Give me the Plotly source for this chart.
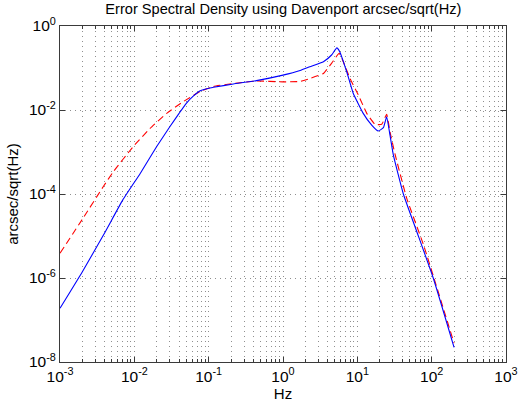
import plotly.graph_objects as go

# ---- data (Hz, arcsec/sqrt(Hz)) ----
blue_freq = [0.001, 0.002, 0.004, 0.007, 0.012, 0.02, 0.03, 0.04, 0.05, 0.062,
             0.077, 0.1, 0.116, 0.215, 0.44, 1.0, 1.7, 2.3, 3.5, 4.5,
             5.3, 5.8, 7.2, 8.8, 12.0, 15.6, 19.1, 22.4, 24.8, 27.5,
             30.5, 41.6, 62.8, 105.0, 200.0]
blue_esd = [1.9e-7, 1.41e-6, 1.2e-5, 7.24e-5, 3.09e-4, 1.35e-3, 3.98e-3, 8.32e-3, 1.445e-2, 2.14e-2,
            2.88e-2, 3.31e-2, 3.47e-2, 4.17e-2, 5.01e-2, 6.76e-2, 8.71e-2, 0.107, 0.141, 0.204,
            0.302, 0.245, 0.0813, 0.0251, 8.32e-3, 4.37e-3, 3.16e-3, 3.8e-3, 6.92e-3, 2.51e-3,
            8.51e-4, 1.0e-4, 1.3e-5, 1.0e-6, 2.24e-8]

red_freq = [0.001, 0.002, 0.00383, 0.00521, 0.00968, 0.01626, 0.02723, 0.0456, 0.0766, 0.1156,
            0.215, 0.443, 1.0, 1.7, 2.3, 3.5, 4.5, 5.71, 6.47, 7.98,
            10.3, 13.4, 17.3, 21.3, 24.8, 27.5, 32.1, 46.1, 77.3, 200.0]
red_esd = [3.89e-6, 2.51e-5, 1.51e-4, 3.39e-4, 1.35e-3, 3.63e-3, 8.32e-3, 1.585e-2, 2.75e-2, 3.63e-2,
           4.27e-2, 4.9e-2, 4.68e-2, 4.79e-2, 5.62e-2, 7.41e-2, 0.129, 0.224, 0.141, 0.0562,
           0.0229, 8.32e-3, 4.57e-3, 4.57e-3, 7.94e-3, 3.02e-3, 9.0e-4, 8.0e-5, 6.3e-6, 2.82e-8]

x_tick_vals = [1e-3, 1e-2, 1e-1, 1e0, 1e1, 1e2, 1e3]
x_tick_text = ["10<sup>-3</sup>", "10<sup>-2</sup>", "10<sup>-1</sup>", "10<sup>0</sup>",
               "10<sup>1</sup>", "10<sup>2</sup>", "10<sup>3</sup>"]
y_tick_vals = [1e-8, 1e-6, 1e-4, 1e-2, 1e0]
y_tick_text = ["10<sup>-8</sup>", "10<sup>-6</sup>", "10<sup>-4</sup>", "10<sup>-2</sup>", "10<sup>0</sup>"]

title_text = "Error Spectral Density using Davenport arcsec/sqrt(Hz)"
x_label = "Hz"
y_label = "arcsec/sqrt(Hz)"

FONT = "Liberation Sans, Arial, Helvetica, sans-serif"
GRID = "#8f8f8f"
AXC = "#3a3a3a"
DOTS = "1px,4px"

fig = go.Figure()
fig.add_trace(go.Scatter(x=red_freq, y=red_esd, mode="lines",
                         line=dict(color="#ff0000", width=1.1, dash="7px,4px",
                                   shape="spline", smoothing=0.4),
                         showlegend=False, hoverinfo="skip"))
fig.add_trace(go.Scatter(x=blue_freq, y=blue_esd, mode="lines",
                         line=dict(color="#0000ff", width=1.1,
                                   shape="spline", smoothing=0.4),
                         showlegend=False, hoverinfo="skip"))

minor_x = [m * 10.0 ** e for e in range(-3, 3) for m in range(2, 10)]

fig.update_layout(
    width=518, height=407,
    margin=dict(l=60, r=12, t=26, b=45),
    paper_bgcolor="white", plot_bgcolor="white",
    font=dict(family=FONT, size=15, color="black"),
    title=dict(text=title_text, x=0.547, xref="container", xanchor="center",
               y=0.99, yref="container", yanchor="top",
               font=dict(family=FONT, size=14.6, color="black")),
    xaxis=dict(type="log", range=[-3, 3], automargin=False,
               tickmode="array", tickvals=x_tick_vals, ticktext=x_tick_text,
               ticks="inside", ticklen=5, tickcolor=AXC,
               showline=True, linecolor=AXC, linewidth=1, mirror="ticks",
               showgrid=True, gridcolor=GRID, griddash=DOTS, gridwidth=1,
               zeroline=False,
               minor=dict(tickmode="array", tickvals=minor_x, ticks="inside", ticklen=3,
                          tickcolor=AXC, showgrid=True, gridcolor=GRID,
                          griddash=DOTS, gridwidth=1),
               title=dict(text=x_label, standoff=2, font=dict(size=15)),
               tickfont=dict(size=15.5)),
    yaxis=dict(type="log", range=[-8, 0], automargin=False,
               tickmode="array", tickvals=y_tick_vals, ticktext=y_tick_text,
               ticks="inside", ticklen=5, tickcolor=AXC,
               showline=True, linecolor=AXC, linewidth=1, mirror="ticks",
               showgrid=True, gridcolor=GRID, griddash=DOTS, gridwidth=1,
               zeroline=False,
               title=dict(text=y_label, standoff=6, font=dict(size=15)),
               tickfont=dict(size=15.5)),
)

fig.write_html("out.html", config={"displayModeBar": False, "staticPlot": True},
               post_script="document.body.style.margin='0';document.body.style.overflow='hidden';")
